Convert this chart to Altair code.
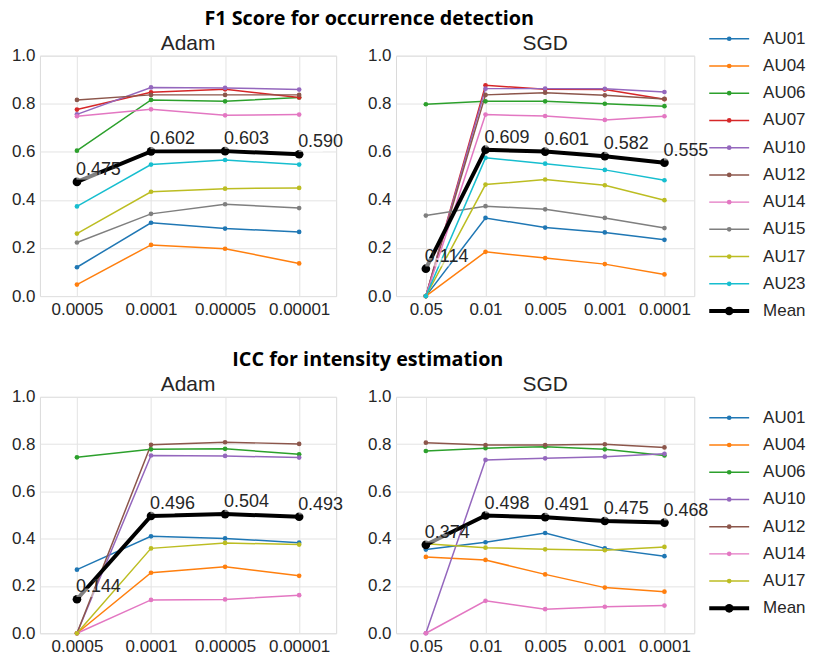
import altair as alt
import pandas as pd

# ---------------- data ----------------
adam_lr = ["0.0005", "0.0001", "0.00005", "0.00001"]
sgd_lr = ["0.05", "0.01", "0.005", "0.001", "0.0001"]

f1_aus = ["AU01", "AU04", "AU06", "AU07", "AU10", "AU12", "AU14", "AU15", "AU17", "AU23"]
icc_aus = ["AU01", "AU04", "AU06", "AU10", "AU12", "AU14", "AU17"]

f1_adam = {
    "AU01": [0.120, 0.305, 0.281, 0.267],
    "AU04": [0.048, 0.213, 0.197, 0.136],
    "AU06": [0.605, 0.816, 0.810, 0.826],
    "AU07": [0.776, 0.848, 0.860, 0.826],
    "AU10": [0.756, 0.868, 0.866, 0.859],
    "AU12": [0.816, 0.837, 0.837, 0.837],
    "AU14": [0.748, 0.777, 0.752, 0.755],
    "AU15": [0.223, 0.342, 0.382, 0.366],
    "AU17": [0.260, 0.434, 0.447, 0.450],
    "AU23": [0.373, 0.547, 0.566, 0.547],
}
f1_adam_mean = [0.475, 0.602, 0.603, 0.590]

f1_sgd = {
    "AU01": [0.0, 0.325, 0.285, 0.265, 0.234],
    "AU04": [0.0, 0.184, 0.158, 0.133, 0.090],
    "AU06": [0.798, 0.810, 0.810, 0.800, 0.790],
    "AU07": [0.0, 0.877, 0.860, 0.859, 0.819],
    "AU10": [0.0, 0.863, 0.863, 0.862, 0.849],
    "AU12": [0.0, 0.837, 0.846, 0.835, 0.820],
    "AU14": [0.0, 0.755, 0.749, 0.733, 0.748],
    "AU15": [0.335, 0.374, 0.361, 0.325, 0.283],
    "AU17": [0.0, 0.464, 0.485, 0.461, 0.399],
    "AU23": [0.0, 0.575, 0.551, 0.525, 0.482],
}
f1_sgd_mean = [0.114, 0.609, 0.601, 0.582, 0.555]

icc_adam = {
    "AU01": [0.269, 0.410, 0.401, 0.383],
    "AU04": [0.0, 0.256, 0.281, 0.243],
    "AU06": [0.744, 0.778, 0.780, 0.757],
    "AU10": [0.0, 0.752, 0.750, 0.743],
    "AU12": [0.0, 0.797, 0.808, 0.801],
    "AU14": [0.0, 0.141, 0.143, 0.161],
    "AU17": [0.0, 0.359, 0.382, 0.375],
}
icc_adam_mean = [0.144, 0.496, 0.504, 0.493]

icc_sgd = {
    "AU01": [0.354, 0.385, 0.424, 0.359, 0.326],
    "AU04": [0.323, 0.310, 0.249, 0.193, 0.176],
    "AU06": [0.771, 0.783, 0.789, 0.778, 0.752],
    "AU10": [0.0, 0.733, 0.740, 0.747, 0.759],
    "AU12": [0.806, 0.796, 0.796, 0.799, 0.786],
    "AU14": [0.0, 0.137, 0.102, 0.112, 0.117],
    "AU17": [0.379, 0.362, 0.355, 0.351, 0.365],
}
icc_sgd_mean = [0.374, 0.498, 0.491, 0.475, 0.468]

series_names = ["AU01", "AU04", "AU06", "AU07", "AU10", "AU12", "AU14", "AU15", "AU17", "AU23", "Mean"]
series_colors = ["#1f77b4", "#ff7f0e", "#2ca02c", "#d62728", "#9467bd", "#8c564b",
                 "#e377c2", "#7f7f7f", "#bcbd22", "#17becf", "#000000"]

FONT = "Liberation Sans"
TXT = "#262626"
BOX = "M-0.1,-2.15 H4.75 V-0.45 H-0.1 Z"   # label backdrop, in units of sqrt(size)/2

color_scale = alt.Scale(domain=series_names, range=series_colors)


def panel(lrs, series, mean, title, width, height):
    rows = []
    for au, vals in series.items():
        for i, (lr, v) in enumerate(zip(lrs, vals)):
            rows.append({"series": au, "lr": lr, "value": v, "order": i})
    df = pd.DataFrame(rows)
    mdf = pd.DataFrame({"series": "Mean", "lr": lrs, "value": mean,
                        "order": list(range(len(lrs))),
                        "label": [f"{m:.3f}" for m in mean]})
    x = alt.X("lr:N", sort=lrs, scale=alt.Scale(type="point", padding=0.5),
              axis=alt.Axis(title=None, labelAngle=0))
    y = alt.Y("value:Q", scale=alt.Scale(domain=[0, 1], nice=False, zero=False),
              axis=alt.Axis(title=None, values=[0, 0.2, 0.4, 0.6, 0.8, 1.0], format=".1f"))
    color = alt.Color("series:N", scale=color_scale, legend=None)
    base = alt.Chart(df).encode(x=x, y=y, color=color, order="order:Q")
    lines = base.mark_line(strokeWidth=1.5)
    pts = base.mark_point(filled=True, size=22, opacity=1)
    mbase = alt.Chart(mdf).encode(x=x, y=y, order="order:Q")
    mline = mbase.mark_line(color="black", strokeWidth=4)
    mpts = mbase.mark_point(filled=True, color="black", size=75, opacity=1)
    mbox = mbase.mark_point(shape=BOX, size=100, filled=True, color="white",
                            opacity=0.5, strokeWidth=0)
    mtext = mbase.mark_text(align="left", baseline="alphabetic", dx=-1, dy=-7,
                            fontSize=18, font=FONT, color=TXT).encode(text="label:N")
    return alt.layer(lines, pts, mline, mpts, mbox, mtext).properties(
        width=width, height=height,
        title=alt.TitleParams(title, fontSize=21, font=FONT, fontWeight="normal",
                              color=TXT, offset=-7.5, anchor="middle"),
    )


def legend(aus, rng, height):
    names = aus + ["Mean"]
    ldf = pd.DataFrame({"series": names, "idx": list(range(len(names)))})
    y = alt.Y("idx:Q", scale=alt.Scale(domain=[0, len(names) - 1], range=rng, nice=False, zero=False),
              axis=None)
    color = alt.Color("series:N", scale=color_scale, legend=None)
    is_mean = alt.datum.series == "Mean"
    base = alt.Chart(ldf).encode(y=y, color=color)
    rule = base.mark_rule().encode(
        x=alt.value(-45), x2=alt.value(-5),
        strokeWidth=alt.condition(is_mean, alt.value(4), alt.value(1.5)))
    pt = base.mark_point(filled=True, opacity=1).encode(
        x=alt.value(-25), size=alt.condition(is_mean, alt.value(75), alt.value(22)))
    txt = alt.Chart(ldf).mark_text(align="left", baseline="middle", fontSize=17,
                                   font=FONT, color=TXT).encode(
        x=alt.value(9), y=y, text="series:N")
    return alt.layer(rule, pt, txt).properties(
        width=40, height=height, view=alt.ViewBackground(stroke="transparent"))


H1 = 241
H2 = 237

row1 = alt.hconcat(
    panel(adam_lr, f1_adam, f1_adam_mean, "Adam", 297, H1),
    panel(sgd_lr, f1_sgd, f1_sgd_mean, "SGD", 299, H1),
    legend(f1_aus, [-17, 256], H1),
    spacing=60, bounds="flush",
    title=alt.TitleParams("F1 Score for occurrence detection", fontSize=19.8, font="Open Sans",
                          fontWeight="bold", color="black", anchor="start", dx=194, offset=0),
).resolve_scale(x="independent", y="independent")

row2 = alt.hconcat(
    panel(adam_lr, icc_adam, icc_adam_mean, "Adam", 297, H2),
    panel(sgd_lr, icc_sgd, icc_sgd_mean, "SGD", 299, H2),
    legend(icc_aus, [21, 212], H2),
    spacing=60, bounds="flush",
    title=alt.TitleParams("ICC for intensity estimation", fontSize=19.8, font="Open Sans",
                          fontWeight="bold", color="black", anchor="start", dx=222, offset=4),
).resolve_scale(x="independent", y="independent")

chart = alt.vconcat(row1, row2, spacing=30).resolve_scale(
    x="independent", y="independent"
).properties(
    padding={"left": 2, "top": 0, "right": 0, "bottom": 0}
).configure_axis(
    grid=True, gridColor="#e3e3e3", gridWidth=1, domain=False, ticks=False,
    labelFont=FONT, labelFontSize=17, labelColor=TXT, labelPadding=5,
).configure_view(stroke="#dadada", strokeWidth=1)

chart.save("out.html", embed_options={"renderer": "svg", "actions": False})
